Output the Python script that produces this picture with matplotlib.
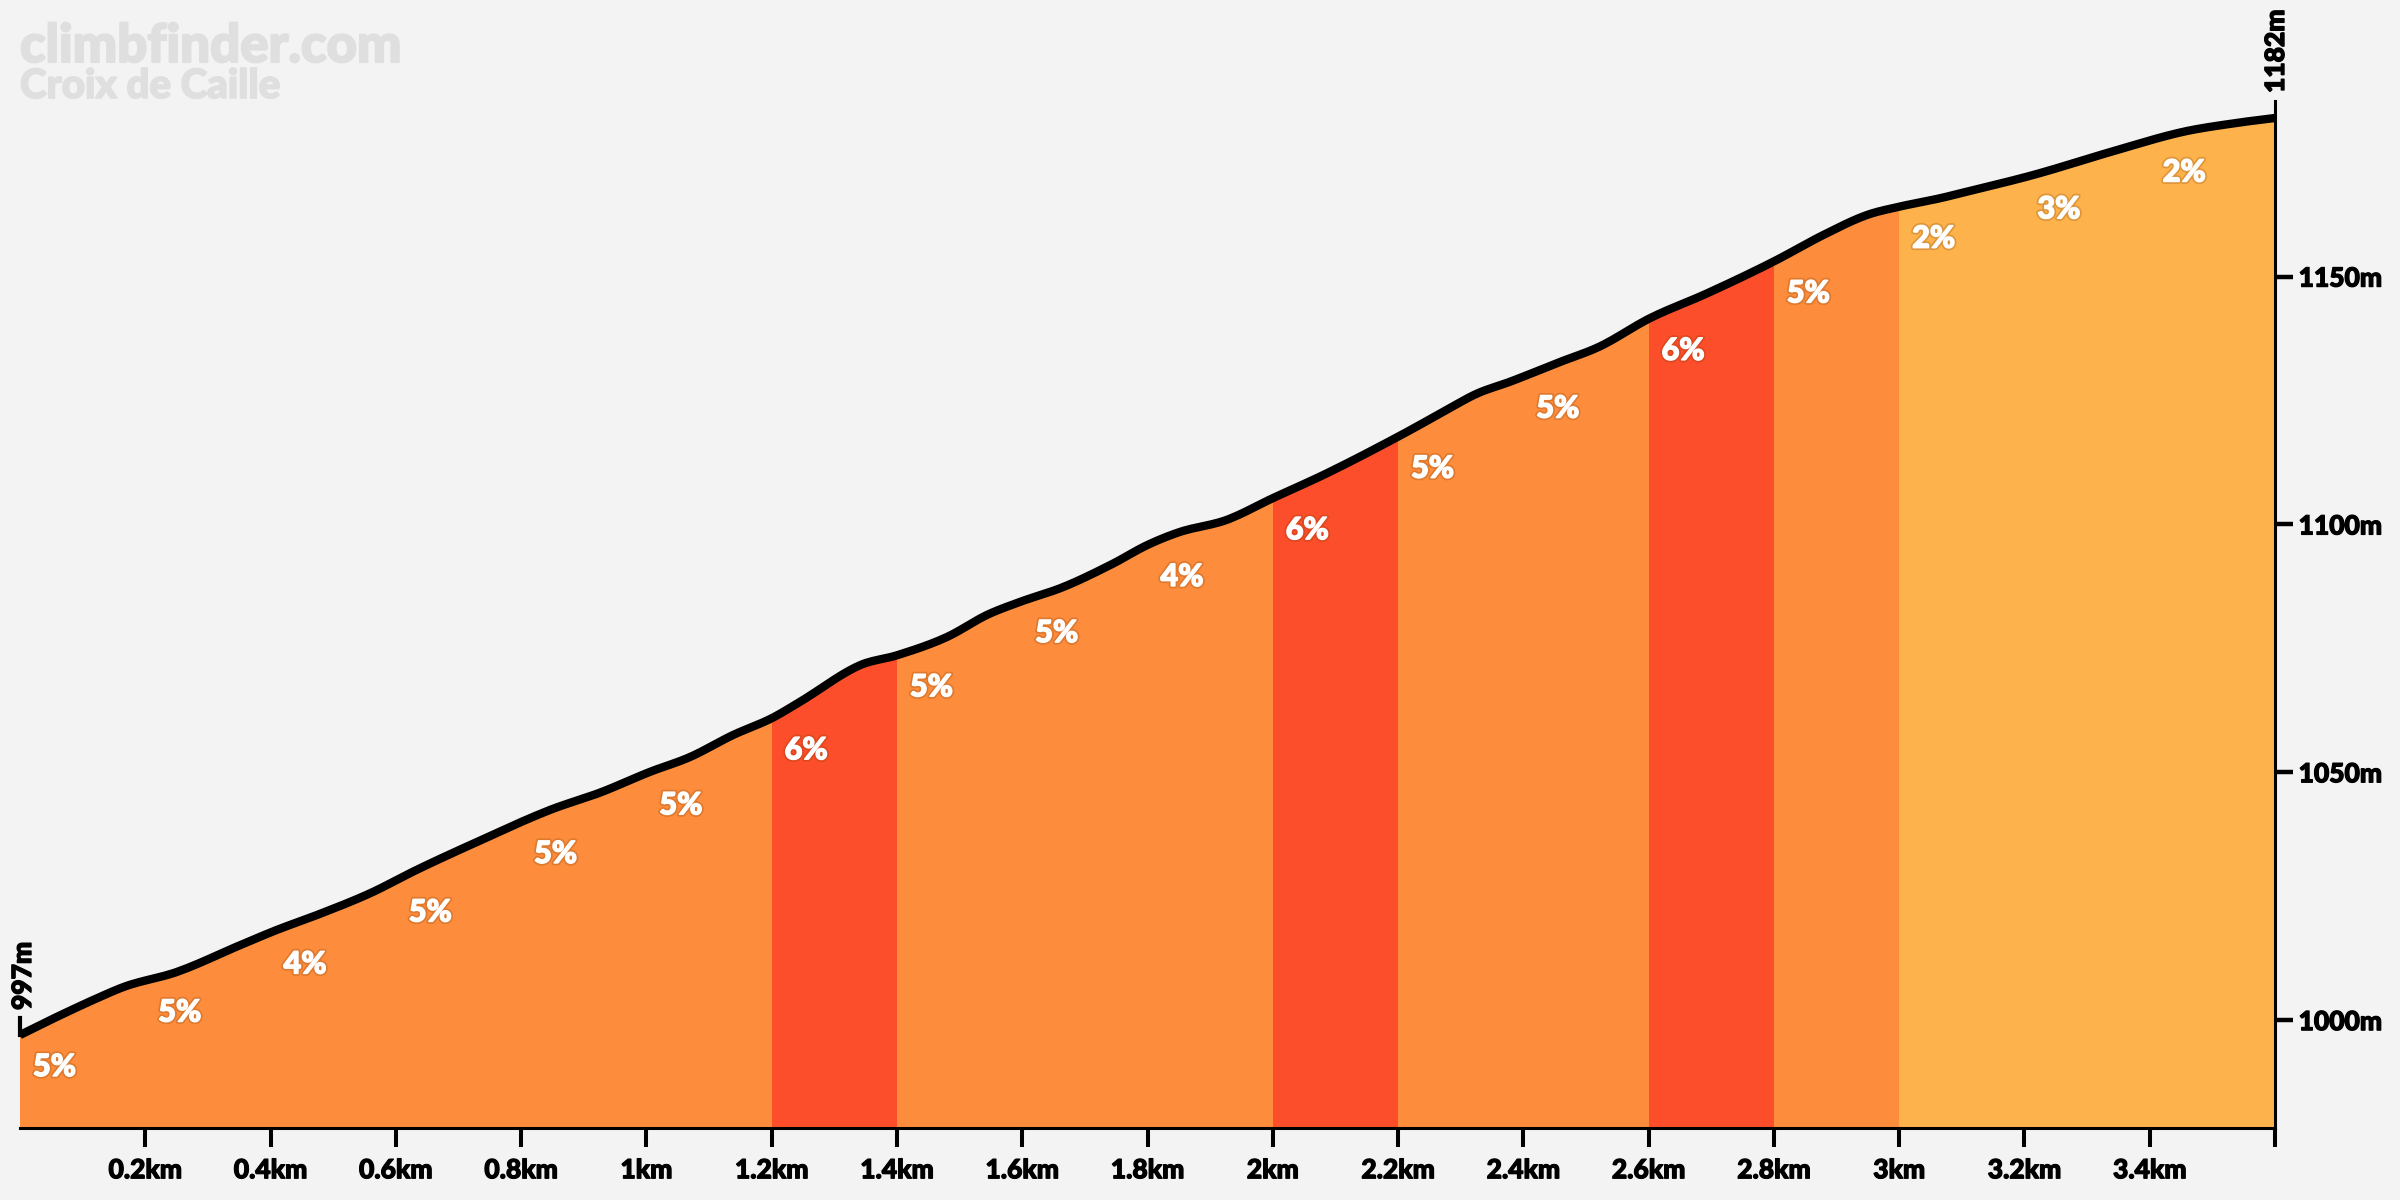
import numpy as np
import matplotlib
matplotlib.use("Agg")
import matplotlib.pyplot as plt
import matplotlib.patheffects as pe
from matplotlib.patches import Polygon

# --- data ---
profile_km = [0.0, 0.048, 0.128, 0.170, 0.25, 0.351, 0.41, 0.474, 0.559, 0.633,
              0.713, 0.846, 0.926, 1.006, 1.07, 1.138, 1.2, 1.245, 1.341, 1.4,
              1.48, 1.543, 1.597, 1.666, 1.745, 1.799, 1.852, 1.926, 2.0, 2.086,
              2.2, 2.272, 2.326, 2.379, 2.459, 2.522, 2.602, 2.693, 2.799, 2.879,
              2.948, 3.0, 3.065, 3.107, 3.214, 3.347, 3.453, 3.533, 3.6]
profile_m = [997.0, 1000.0, 1004.7, 1006.9, 1009.7, 1015.1, 1018.2, 1021.2, 1025.6, 1030.3,
             1035.0, 1042.4, 1045.9, 1050.1, 1053.1, 1057.5, 1060.9, 1064.2, 1071.6, 1073.6,
             1077.3, 1081.7, 1084.4, 1087.4, 1092.1, 1095.8, 1098.5, 1100.9, 1105.3, 1110.3,
             1117.7, 1122.7, 1126.4, 1128.8, 1132.8, 1135.9, 1141.6, 1146.6, 1153.0, 1158.4,
             1162.4, 1164.1, 1165.8, 1167.1, 1170.5, 1175.5, 1179.2, 1180.9, 1182.0]

SEG_LEN = 0.2  # km per gradient segment
seg_grade = [5, 5, 4, 5, 5, 5, 6, 5, 5, 4, 6, 5, 5, 6, 5, 2, 3, 2]

x_ticks = [0.2, 0.4, 0.6, 0.8, 1.0, 1.2, 1.4, 1.6, 1.8, 2.0, 2.2, 2.4, 2.6, 2.8, 3.0, 3.2, 3.4, 3.6]
x_labels = ["0.2km", "0.4km", "0.6km", "0.8km", "1km", "1.2km", "1.4km", "1.6km", "1.8km",
            "2km", "2.2km", "2.4km", "2.6km", "2.8km", "3km", "3.2km", "3.4km", ""]
y_ticks = [1000, 1050, 1100, 1150]
y_labels = ["1000m", "1050m", "1100m", "1150m"]

site_name = "climbfinder.com"
climb_name = "Croix de Caille"

BG = "#f3f3f3"
WATERMARK = "#dfdfdf"


def grade_color(g):
    if g >= 6:
        return "#fc4e2a"
    if g >= 4:
        return "#fd8d3c"
    return "#feb24c"


def smooth(xp, yp, n=12):
    """Cubic Hermite through the read points, only to draw a rounded line."""
    xp, yp = np.asarray(xp), np.asarray(yp)
    sec = np.diff(yp) / np.diff(xp)
    m = np.empty_like(yp)
    m[1:-1] = (sec[:-1] + sec[1:]) / 2
    m[0], m[-1] = sec[0], sec[-1]
    xs, ys = [xp[0]], [yp[0]]
    for i in range(len(xp) - 1):
        h = xp[i + 1] - xp[i]
        t = np.linspace(0, 1, n + 1)[1:]
        h00 = 2 * t**3 - 3 * t**2 + 1
        h10 = t**3 - 2 * t**2 + t
        h01 = -2 * t**3 + 3 * t**2
        h11 = t**3 - t**2
        xs.extend(xp[i] + t * h)
        ys.extend(h00 * yp[i] + h10 * h * m[i] + h01 * yp[i + 1] + h11 * h * m[i + 1])
    return np.array(xs), np.array(ys)


plt.rcParams["font.family"] = ["Lato", "DejaVu Sans"]
plt.rcParams["font.weight"] = "black"

fig = plt.figure(figsize=(24, 12), dpi=100, facecolor=BG)
ax = fig.add_axes([20 / 2400, 72.3 / 1200, 2255 / 2400, 1 - 72.3 / 1200])
ax.set_facecolor(BG)

ymin, ymax = 978.3, 1205.8
x0, x1 = profile_km[0], profile_km[-1]
ax.set_xlim(x0, x1)
ax.set_ylim(ymin, ymax)

sx, sy = smooth(profile_km, profile_m)

# area under the profile, used as clip for the coloured gradient bands
area = Polygon([(x0, ymin)] + list(zip(sx, sy)) + [(x1, ymin)],
               closed=True, facecolor="none", edgecolor="none")
ax.add_patch(area)

for i, g in enumerate(seg_grade):
    band = ax.axvspan(i * SEG_LEN, (i + 1) * SEG_LEN, color=grade_color(g), lw=0, zorder=1)
    band.set_clip_path(area)

ax.plot(sx, sy, color="black", lw=6, solid_joinstyle="round",
        solid_capstyle="butt", zorder=3)

heavy = lambda c, w: [pe.withStroke(linewidth=w, foreground=c)]

# gradient labels, just under the line at the start of every segment
for i, g in enumerate(seg_grade):
    xs = i * SEG_LEN
    ys = np.interp(xs, sx, sy)
    ax.annotate(f"{g}%", xy=(xs, ys), xytext=(13, -32), textcoords="offset pixels",
                ha="left", va="center", color="white", fontsize=22, fontweight="black",
                path_effects=[pe.withStroke(linewidth=3.5, foreground=(0.45, 0.2, 0.0, 0.22)),
                              pe.withStroke(linewidth=1.0, foreground="white")],
                zorder=4)

# start / summit markers
h0, h1 = profile_m[0], profile_m[-1]
ax.plot([x0, x0], [h0, h0 + 3.5], color="black", lw=3, clip_on=False, zorder=4)
ax.annotate(f"{h0:.0f}m", xy=(x0, h0), xytext=(3, 25), textcoords="offset pixels",
            rotation=90, ha="center", va="bottom", fontsize=19, annotation_clip=False,
            path_effects=heavy("black", 1.0))
ax.annotate(f"{h1:.0f}m", xy=(x1, h1), xytext=(1, 25), textcoords="offset pixels",
            rotation=90, ha="center", va="bottom", fontsize=19, annotation_clip=False,
            path_effects=heavy("black", 1.0))

# axes styling
for s in ("left", "top"):
    ax.spines[s].set_visible(False)
ax.spines["bottom"].set_linewidth(2.2)
ax.spines["right"].set_linewidth(2.2)
ax.spines["right"].set_bounds(ymin, h1 + 3.5)
ax.spines["right"].set_zorder(5)

ax.set_xticks(x_ticks)
ax.set_xticklabels(x_labels)
ax.set_yticks(y_ticks)
ax.set_yticklabels(y_labels)
ax.yaxis.tick_right()
ax.tick_params(axis="x", direction="out", length=14, width=2.9, pad=8, labelsize=19)
ax.tick_params(axis="y", direction="out", length=13, width=3.2, pad=4, labelsize=19)
for lab in ax.get_xticklabels() + ax.get_yticklabels():
    lab.set_path_effects(heavy("black", 0.9))

fig.text(20 / 2400, 1 - 62 / 1200, site_name, color=WATERMARK, fontsize=38,
         fontweight="black", ha="left", va="baseline", path_effects=heavy(WATERMARK, 1.5))
fig.text(20 / 2400, 1 - 98 / 1200, climb_name, color=WATERMARK, fontsize=29,
         fontweight="black", ha="left", va="baseline", path_effects=heavy(WATERMARK, 1.2))

fig.savefig("out.png", dpi=100, facecolor=BG)
